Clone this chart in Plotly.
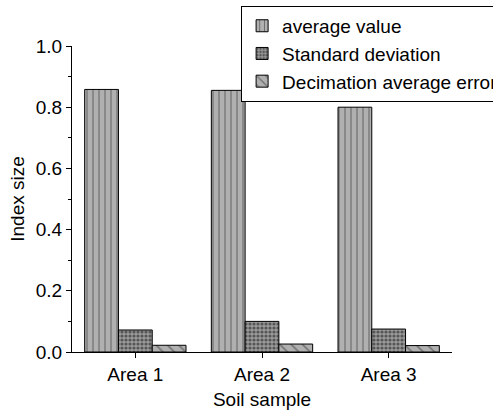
import plotly.graph_objects as go

categories = ["Area 1", "Area 2", "Area 3"]
series_names = ["average value", "Standard deviation", "Decimation average error"]
avg_values = [0.858, 0.855, 0.800]
std_values = [0.072, 0.100, 0.075]
dec_values = [0.022, 0.026, 0.021]
y_ticks = [0.0, 0.2, 0.4, 0.6, 0.8, 1.0]

font = dict(family="Liberation Sans, Arial, sans-serif", size=19, color="black")

fig = go.Figure()
styles = [
    dict(color="#b0b0b0", pattern=dict(shape="|", fgcolor="black", bgcolor="#b0b0b0", size=6, solidity=0.15)),
    dict(color="#555555", pattern=dict(shape=".", fgcolor="#111111", bgcolor="#9a9a9a", size=4, solidity=0.5)),
    dict(color="#b0b0b0", pattern=dict(shape="\\", fgcolor="#333333", bgcolor="#b0b0b0", size=8, solidity=0.2)),
]
for name, vals, st in zip(series_names, [avg_values, std_values, dec_values], styles):
    fig.add_trace(go.Bar(
        x=categories, y=vals, name=name,
        marker=dict(color=st["color"], pattern=st["pattern"], line=dict(color="black", width=1)),
    ))

fig.update_layout(
    width=493, height=413,
    margin=dict(l=72, r=41, t=46, b=61, autoexpand=False),
    paper_bgcolor="white", plot_bgcolor="white",
    font=font,
    barmode="group", bargap=0.2, bargroupgap=0,
    showlegend=True,
    legend=dict(x=0.445, y=1.131, xanchor="left", yanchor="top",
                bordercolor="black", borderwidth=1, bgcolor="white",
                font=dict(family="Liberation Sans, Arial, sans-serif", size=19),
                tracegroupgap=0, itemwidth=30),
    xaxis=dict(
        title=dict(text="Soil sample", font=font, standoff=8),
        range=[-0.5, 2.5], showline=True, linecolor="black", linewidth=1,
        ticks="outside", ticklen=5, tickcolor="black",
        showgrid=False, zeroline=False,
        minor=dict(ticks="outside", ticklen=3, tickcolor="black", showgrid=False),
    ),
    yaxis=dict(
        title=dict(text="Index size", font=font, standoff=6),
        range=[0, 1.0], tickvals=y_ticks, ticktext=[f"{v:.1f}" for v in y_ticks],
        showline=True, linecolor="black", linewidth=1,
        ticks="outside", ticklen=5, tickcolor="black",
        showgrid=False, zeroline=False,
        minor=dict(dtick=0.1, ticks="outside", ticklen=3, tickcolor="black", showgrid=False),
    ),
)
fig.write_html("out.html")
